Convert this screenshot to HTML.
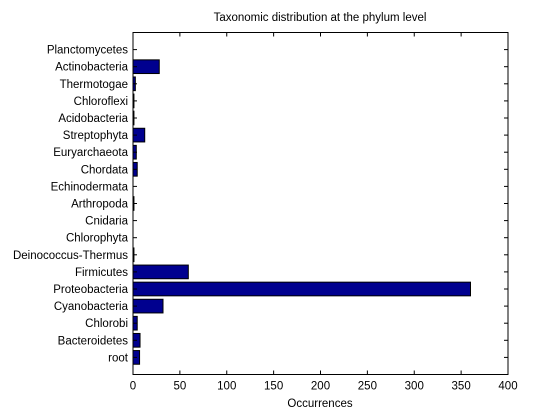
<!DOCTYPE html>
<html><head><meta charset="utf-8"><style>
body{margin:0;background:#fff;}
svg{display:block;font-family:"Liberation Sans",Arial,sans-serif;}
</style></head><body>
<svg id="chart" width="560" height="420">
<rect x="0" y="0" width="560" height="420" fill="#fff"/>
<rect x="133" y="32.5" width="375" height="342" fill="#fff" stroke="#000" stroke-width="1"/>
<text x="320" y="21" font-size="11.5" text-anchor="middle">Taxonomic distribution at the phylum level</text>
<text x="320" y="407" font-size="11.5" text-anchor="middle">Occurrences</text>
<g id="bars"></g><g id="yt"></g><g id="xt"></g>
</svg>
<script>
const categories=["root","Bacteroidetes","Chlorobi","Cyanobacteria","Proteobacteria","Firmicutes","Deinococcus-Thermus","Chlorophyta","Cnidaria","Arthropoda","Echinodermata","Chordata","Euryarchaeota","Streptophyta","Acidobacteria","Chloroflexi","Thermotogae","Actinobacteria","Planctomycetes"];
const values=[7,7.5,4.5,32,360,59,1,0,0,1,0,4.5,3.5,12.5,1,1,2.5,28,0];
const xTicks=[0,50,100,150,200,250,300,350,400];
const NS="http://www.w3.org/2000/svg";
const L=133,R=508,T=32.5,B=374.5;
const xs=v=>L+(v/400)*(R-L);
const ys=i=>B-(i+1)*(B-T)/20;
const bw=0.8*(B-T)/20;
const bars=document.getElementById('bars'),yt=document.getElementById('yt'),xt=document.getElementById('xt');
function mk(t,a){const e=document.createElementNS(NS,t);for(const k in a)e.setAttribute(k,a[k]);return e;}
categories.forEach((c,i)=>{
 const y=ys(i);
 if(values[i]>0){
  const r=mk('rect',{x:L,y:y-bw/2,width:xs(values[i])-L,height:bw,fill:'#00008f',stroke:'#000','stroke-width':1});
  
  
  bars.appendChild(r);
 }
 const tk=mk('line',{x1:L,x2:L+4,y1:y,y2:y,stroke:'#000'});
 
 
 yt.appendChild(tk);
 const tk2=mk('line',{x1:R,x2:R-4,y1:y,y2:y,stroke:'#000'});
 
 
 yt.appendChild(tk2);
 const t=mk('text',{x:L-5,y:y+4,'font-size':11.5,'text-anchor':'end'});
 t.textContent=c;
 
 
 yt.appendChild(t);
});
xTicks.forEach(v=>{
 const x=xs(v);
 const a=mk('line',{x1:x,x2:x,y1:B,y2:B-4,stroke:'#000'});
 
 
 xt.appendChild(a);
 const b=mk('line',{x1:x,x2:x,y1:T,y2:T+4,stroke:'#000'});
 
 
 xt.appendChild(b);
 const t=mk('text',{x:x,y:B+15,'font-size':11.5,'text-anchor':'middle'});
 t.textContent=v;
 
 
 xt.appendChild(t);
});
</script>
</body></html>
